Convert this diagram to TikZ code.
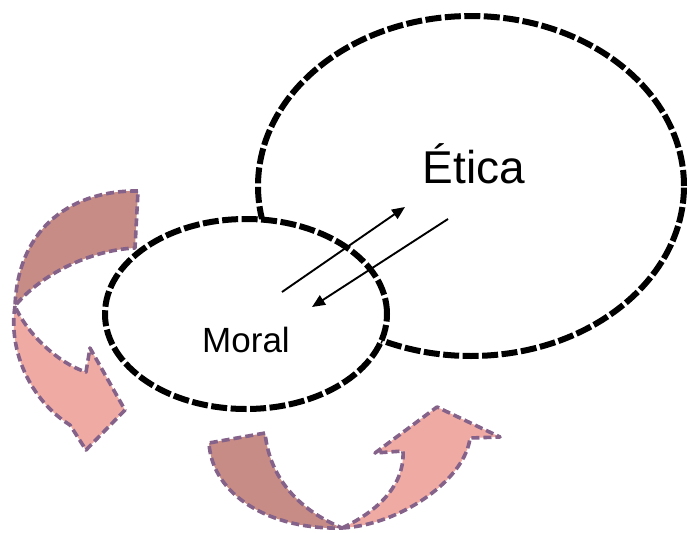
\documentclass[tikz,border=0pt]{standalone}
\usepackage{fontspec}
\setmainfont{Liberation Sans}
\usetikzlibrary{shapes.geometric,arrows.meta}

\definecolor{rosedark}{RGB}{200,140,134}
\definecolor{roselight}{RGB}{238,170,163}
\definecolor{roseline}{RGB}{132,98,138}

\tikzset{
  blob/.style={ellipse,inner sep=0pt,line width=6pt,
    dash pattern=on 16pt off 3.5pt},
  bandline/.style={draw=roseline,line width=3.6pt,
    dash pattern=on 8pt off 4pt,line join=round},
  pointer/.style={line width=1.9pt,-{Triangle[length=13pt,width=11pt]}}
}

\begin{document}
\begin{tikzpicture}[x=1pt,y=-1pt]
  \useasboundingbox (0,0) rectangle (689,533);

  % curved arrow on the left
  \filldraw[bandline,fill=rosedark]
    (138,191) .. controls (75,190) and (18,225) .. (15,306)
    .. controls (40,275) and (90,250) .. (135,248) -- cycle;
  \filldraw[bandline,fill=roselight]
    (15,306) .. controls (8,350) and (30,400) .. (70,425)
    -- (86,450) -- (125,410) -- (90,348) -- (86,372)
    .. controls (55,362) and (25,330) .. (15,306) -- cycle;

  % curved arrow at the bottom
  \filldraw[bandline,fill=rosedark]
    (265,433) -- (209,443) .. controls (212,495) and (270,530) .. (342,528)
    .. controls (300,510) and (270,480) .. (265,433) -- cycle;
  \filldraw[bandline,fill=roselight]
    (342,528) .. controls (400,525) and (465,480) .. (470,438)
    -- (500,437) -- (437,407) -- (375,453) -- (403,451)
    .. controls (405,490) and (370,515) .. (342,528) -- cycle;

  % the two fields
  \node[blob,draw,minimum width=426pt,minimum height=340pt] (etica) at (471,186) {};
  \node[blob,draw,fill=white,minimum width=282pt,minimum height=190pt] (moral) at (246,314) {};

  \node[anchor=base,font=\fontsize{46}{55}\selectfont] (eticalabel) at (474,183) {Ética};
  \node[anchor=base,font=\fontsize{35}{42}\selectfont] (morallabel) at (246,352) {Moral};

  % exchange between them
  \coordinate (upfrom) at (282,292);
  \coordinate (upto) at (405,207);
  \coordinate (downfrom) at (448,219);
  \coordinate (downto) at (312,307);
  \draw[pointer] (upfrom) -- (upto);
  \draw[pointer] (downfrom) -- (downto);
\end{tikzpicture}
\end{document}
